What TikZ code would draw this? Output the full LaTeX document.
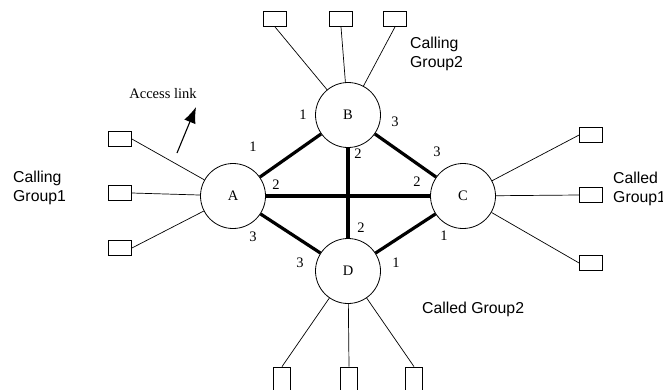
\documentclass[tikz,border=0pt]{standalone}
\usepackage{fontspec}
\setmainfont{Liberation Serif}
\newfontfamily\grpfont{Liberation Sans}
\usetikzlibrary{arrows.meta}

\begin{document}
\begin{tikzpicture}[x=1pt, y=-1pt,
    every node/.style={font=\fontsize{14.5}{17}\selectfont},
    switch/.style={draw, circle, minimum size=65pt, inner sep=0pt, line width=0.8pt},
    term/.style={draw, rectangle, minimum width=23pt, minimum height=15pt, inner sep=0pt, line width=0.8pt},
    termv/.style={draw, rectangle, minimum width=17pt, minimum height=24pt, inner sep=0pt, line width=0.8pt},
    trunk/.style={line width=3.2pt},
    access/.style={line width=0.7pt},
    port/.style={inner sep=0pt},
    group/.style={font=\grpfont\fontsize{15.8}{19.5}\selectfont, align=left, anchor=west, inner sep=0pt}]

    \useasboundingbox (0,0) rectangle (663,389);

    % switching nodes
    \node[switch] (A) at (233,196) {A};
    \node[switch] (B) at (348,115) {B};
    \node[switch] (C) at (463,196) {C};
    \node[switch] (D) at (348,271) {D};

    % trunks between the nodes
    \draw[trunk] (A) -- (B);
    \draw[trunk] (A) -- (C);
    \draw[trunk] (A) -- (D);
    \draw[trunk] (B) -- (C);
    \draw[trunk] (B) -- (D);
    \draw[trunk] (C) -- (D);

    % port numbers
    \node[port] (pA1) at (253,147) {1};
    \node[port] (pA2) at (276,185) {2};
    \node[port] (pA3) at (253,237) {3};
    \node[port] (pB1) at (303,115) {1};
    \node[port] (pB2) at (358,154) {2};
    \node[port] (pB3) at (395,122) {3};
    \node[port] (pC3) at (437,152) {3};
    \node[port] (pC2) at (417,182) {2};
    \node[port] (pC1) at (444,236) {1};
    \node[port] (pD3) at (300,263) {3};
    \node[port] (pD2) at (361,228) {2};
    \node[port] (pD1) at (396,263) {1};

    % terminals of A
    \node[term] (tA1) at (120,139) {};
    \node[term] (tA2) at (120,193) {};
    \node[term] (tA3) at (120,248) {};
    \draw[access] (tA1.east) -- (A);
    \draw[access] (tA2.east) -- (A);
    \draw[access] (tA3.east) -- (A);

    % terminals of B
    \node[term] (tB1) at (275,19) {};
    \node[term] (tB2) at (341,19) {};
    \node[term] (tB3) at (395,19) {};
    \draw[access] (tB1.south) -- (B);
    \draw[access] (tB2.south) -- (B);
    \draw[access] (tB3.south) -- (B);

    % terminals of C
    \node[term] (tC1) at (591,135) {};
    \node[term] (tC2) at (591,195) {};
    \node[term] (tC3) at (591,263) {};
    \draw[access] (tC1.west) -- (C);
    \draw[access] (tC2.west) -- (C);
    \draw[access] (tC3.west) -- (C);

    % terminals of D
    \node[termv] (tD1) at (282,379) {};
    \node[termv] (tD2) at (349,379) {};
    \node[termv] (tD3) at (414,379) {};
    \draw[access] (tD1.north) -- (D);
    \draw[access] (tD2.north) -- (D);
    \draw[access] (tD3.north) -- (D);

    % access link pointer
    \node (acclabel) at (163,94) {Access link};
    \coordinate (acctail) at (177,153);
    \coordinate (acctip) at (196,107);
    \draw[-{Latex[length=16pt,width=12pt]}, line width=1.1pt] (acctail) -- (acctip);

    % group labels
    \node[group] (cg2) at (410,54) {Calling\\Group2};
    \node[group] (cg1) at (13,188) {Calling\\Group1};
    \node[group] (dg1) at (613,189) {Called\\Group1};
    \node[group] (dg2) at (422,309) {Called Group2};

\end{tikzpicture}
\end{document}
